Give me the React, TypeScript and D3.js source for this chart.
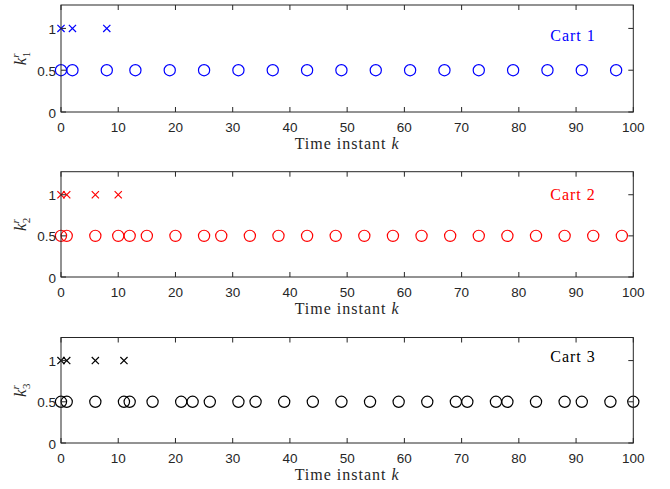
import React from "react";
import * as d3 from "d3";

const xTicks = [0, 10, 20, 30, 40, 50, 60, 70, 80, 90, 100];
const yTicks = [0, 0.5, 1];
const yTickLabels = ["0", "0.5", "1"];

const cart1Cross = [0, 2, 8];
const cart1Circle = [0, 2, 8, 13, 19, 25, 31, 37, 43, 49, 55, 61, 67, 73, 79, 85, 91, 97];
const cart2Cross = [0, 1, 6, 10];
const cart2Circle = [0, 1, 6, 10, 12, 15, 20, 25, 28, 33, 38, 43, 48, 53, 58, 63, 68, 73, 78, 83, 88, 93, 98];
const cart3Cross = [0, 1, 6, 11];
const cart3Circle = [0, 1, 6, 11, 12, 16, 21, 23, 26, 31, 34, 39, 44, 49, 54, 59, 64, 69, 71, 76, 78, 83, 88, 91, 96, 100];

const crossValue = 1;
const circleValue = 0.5;

const panelNames = ["Cart 1", "Cart 2", "Cart 3"];
const panelSubs = ["1", "2", "3"];
const panelColors = ["#0000ff", "#ff0000", "#000000"];
const panelCross = [cart1Cross, cart2Cross, cart3Cross];
const panelCircle = [cart1Circle, cart2Circle, cart3Circle];

const W = 670;
const H = 489;
const left = 61;
const right = 633.3;
const panelTops = [5, 171.7, 337.5];
const panelBottoms = [112, 277, 443];
const axisColor = "#262626";
const sans = "Arial, 'Liberation Sans', sans-serif";
const serif = "'Liberation Serif', 'Times New Roman', serif";
const cartY = [41, 200, 362];

function Panel({ i }: { i: number }) {
  const x = d3.scaleLinear().domain([0, 100]).range([left, right]);
  const y = d3.scaleLinear().domain([0, 1.28]).range([panelBottoms[i], panelTops[i]]);
  const top = panelTops[i];
  const bottom = panelBottoms[i];
  const color = panelColors[i];
  const tl = 5;
  const cs = 3.6;
  const midY = (top + bottom) / 2;
  return (
    <g>
      {panelCircle[i].map((k, j) => (
        <circle key={"c" + j} cx={x(k)} cy={y(circleValue)} r={5.6} fill="none" stroke={color} strokeWidth={1.2} />
      ))}
      {panelCross[i].map((k, j) => (
        <path
          key={"x" + j}
          d={`M${x(k) - cs},${y(crossValue) - cs}L${x(k) + cs},${y(crossValue) + cs}M${x(k) - cs},${y(crossValue) + cs}L${x(k) + cs},${y(crossValue) - cs}`}
          stroke={color}
          strokeWidth={1.2}
          fill="none"
        />
      ))}
      <rect x={left} y={top} width={right - left} height={bottom - top} fill="none" stroke={axisColor} strokeWidth={1} />
      {xTicks.map((t) => (
        <g key={"xt" + t}>
          <line x1={x(t)} x2={x(t)} y1={bottom} y2={bottom - tl} stroke={axisColor} />
          <line x1={x(t)} x2={x(t)} y1={top} y2={top + tl} stroke={axisColor} />
          <text x={x(t)} y={bottom + 20} textAnchor="middle" fontSize={13.5} style={{ fontFamily: sans }} fill={axisColor}>
            {t}
          </text>
        </g>
      ))}
      {yTicks.map((t, j) => (
        <g key={"yt" + t}>
          <line x1={left} x2={left + tl} y1={y(t)} y2={y(t)} stroke={axisColor} />
          <line x1={right} x2={right - tl} y1={y(t)} y2={y(t)} stroke={axisColor} />
          <text x={left - 5} y={y(t) + 5.5} textAnchor="end" fontSize={13.5} style={{ fontFamily: sans }} fill={axisColor}>
            {yTickLabels[j]}
          </text>
        </g>
      ))}
      <text x={(left + right) / 2} y={bottom + 36.5} textAnchor="middle" fontSize={16} letterSpacing={1} style={{ fontFamily: serif }} fill={axisColor}>
        Time instant <tspan fontStyle="italic">k</tspan>
      </text>
      <text transform={`translate(26,${midY}) rotate(-90)`} textAnchor="middle" fontSize={17} style={{ fontFamily: serif }} fill={axisColor}>
        <tspan fontStyle="italic">k</tspan>
        <tspan fontSize={11} fontStyle="italic" dy={-7}>r</tspan>
        <tspan fontSize={11} dx={-4} dy={11}>{panelSubs[i]}</tspan>
      </text>
      <text x={573} y={cartY[i]} textAnchor="middle" fontSize={16} letterSpacing={1} style={{ fontFamily: serif }} fill={color}>
        {panelNames[i]}
      </text>
    </g>
  );
}

export default function App() {
  return (
    <svg width={W} height={H} style={{ position: "absolute", left: 0, top: 0, background: "#fff" }}>
      <rect width={W} height={H} fill="#fff" />
      {[0, 1, 2].map((i) => (
        <Panel key={i} i={i} />
      ))}
    </svg>
  );
}
